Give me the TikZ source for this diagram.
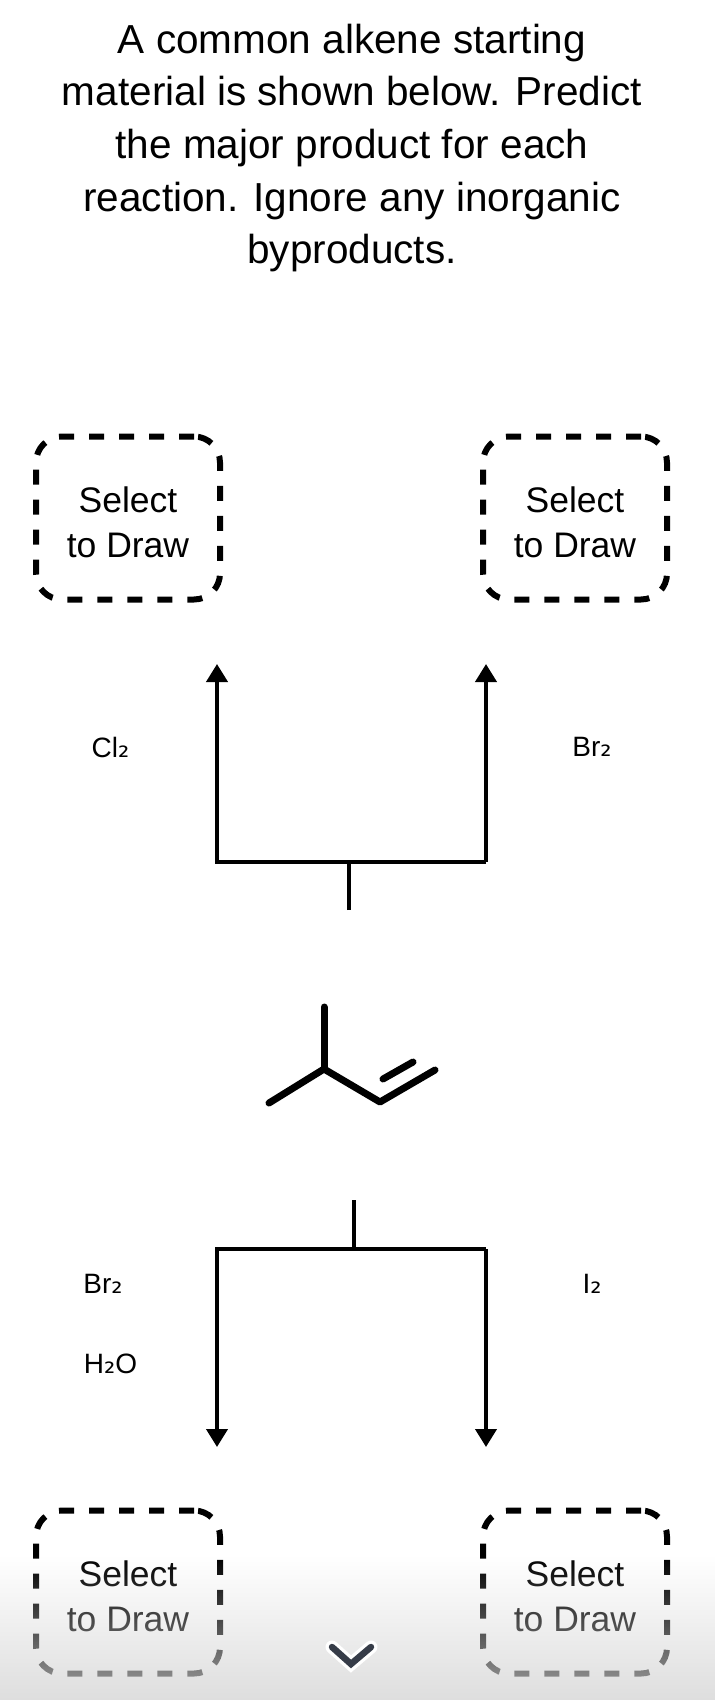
\documentclass[tikz,border=0pt]{standalone}
\usepackage{fontspec}
\setmainfont{Liberation Sans}
\newfontfamily\subfont{DejaVu Sans}
\newcommand{\subtwo}{{\subfont\fontsize{28}{32}\selectfont ₂}}
\usetikzlibrary{
    arrows.meta,
    fadings
}
\tikzfading[name=footerfade, top color=transparent!100, bottom color=transparent!15]
\definecolor{chevcolor}{RGB}{54,60,72}
\begin{document}
\begin{tikzpicture}[
    x=1pt,
    y=-1pt,
    every node/.style={font=\fontsize{28}{32}\selectfont, text=black},
    drawbox/.style={
        draw=black,
        line width=6pt,
        dash pattern=on 15pt off 15pt,
        rounded corners=26pt,
        minimum width=184pt,
        minimum height=163pt,
        inner sep=0pt,
        text height=79pt,
        align=center,
        font=\fontsize{35.5}{45}\selectfont
    },
    branch/.style={
        line width=4pt
    },
    reaction/.style={
        branch,
        -{Triangle[length=18pt, width=21pt]}
    },
    bond/.style={
        line width=7pt,
        line cap=round,
        line join=round
    }
]

    \useasboundingbox (0,0) rectangle (715,1700);
    \clip (0,0) rectangle (715,1700);

    % Question text
    \node[align=center, font=\fontsize{40.5}{52.6}\selectfont] (question) at (352,148) {
        A common alkene starting\\
        material is shown below. Predict\\
        the major product for each\\
        reaction. Ignore any inorganic\\
        byproducts.
    };

    % Answer boxes
    \node[drawbox] (boxCl) at (128,518) {Select\\to Draw};
    \node[drawbox] (boxBr) at (575,518) {Select\\to Draw};
    \node[drawbox] (boxBrW) at (128,1592) {Select\\to Draw};
    \node[drawbox] (boxI) at (575,1592) {Select\\to Draw};

    % Upper branch
    \coordinate (upStem) at (349,910);
    \coordinate (upJoin) at (349,862);
    \coordinate (upLeft) at (217,862);
    \coordinate (upRight) at (486,862);
    \coordinate (upLeftTip) at (217,664);
    \coordinate (upRightTip) at (486,664);
    \draw[branch] (upStem) -- (upJoin);
    \draw[reaction, line join=miter] (upRight) -- (upLeft) -- (upLeftTip);
    \draw[reaction] (upRight) -- (upRightTip);

    % Lower branch
    \coordinate (lowStem) at (354,1200);
    \coordinate (lowJoin) at (354,1249);
    \coordinate (lowLeft) at (217,1249);
    \coordinate (lowRight) at (486,1249);
    \coordinate (lowLeftTip) at (217,1447);
    \coordinate (lowRightTip) at (486,1447);
    \draw[branch] (lowStem) -- (lowJoin);
    \draw[reaction, line join=miter] (lowRight) -- (lowLeft) -- (lowLeftTip);
    \draw[reaction] (lowRight) -- (lowRightTip);

    % Reagents
    \node (Cl2) at (110.5,747) {Cl\subtwo};
    \node (Br2a) at (592,747) {Br\subtwo};
    \node (Br2b) at (103,1284) {Br\subtwo};
    \node (H2O) at (110.5,1364) {H\subtwo O};
    \node (I2) at (592,1284) {I\subtwo};

    % Starting alkene
    \coordinate (cMe1) at (324,1007);
    \coordinate (cMe2) at (269,1103);
    \coordinate (cH) at (324,1069);
    \coordinate (cCH) at (380,1102);
    \coordinate (cCH2) at (435,1070);
    \coordinate (dblA) at (383,1079);
    \coordinate (dblB) at (413,1062);
    \draw[bond] (cMe1) -- (cH);
    \draw[bond] (cMe2) -- (cH) -- (cCH) -- (cCH2);
    \draw[bond] (dblA) -- (dblB);

    % Footer shade
    \fill[black!17, path fading=footerfade] (0,1555) rectangle (715,1715);

    % Scroll chevron
    \coordinate (chevL) at (332,1647);
    \coordinate (chevM) at (351,1664);
    \coordinate (chevR) at (371,1647);
    \draw[white, line width=13pt, line cap=round] (chevL) -- (chevM) -- (chevR);
    \draw[chevcolor, line width=6.5pt, line cap=round] (chevL) -- (chevM) -- (chevR);

\end{tikzpicture}
\end{document}
